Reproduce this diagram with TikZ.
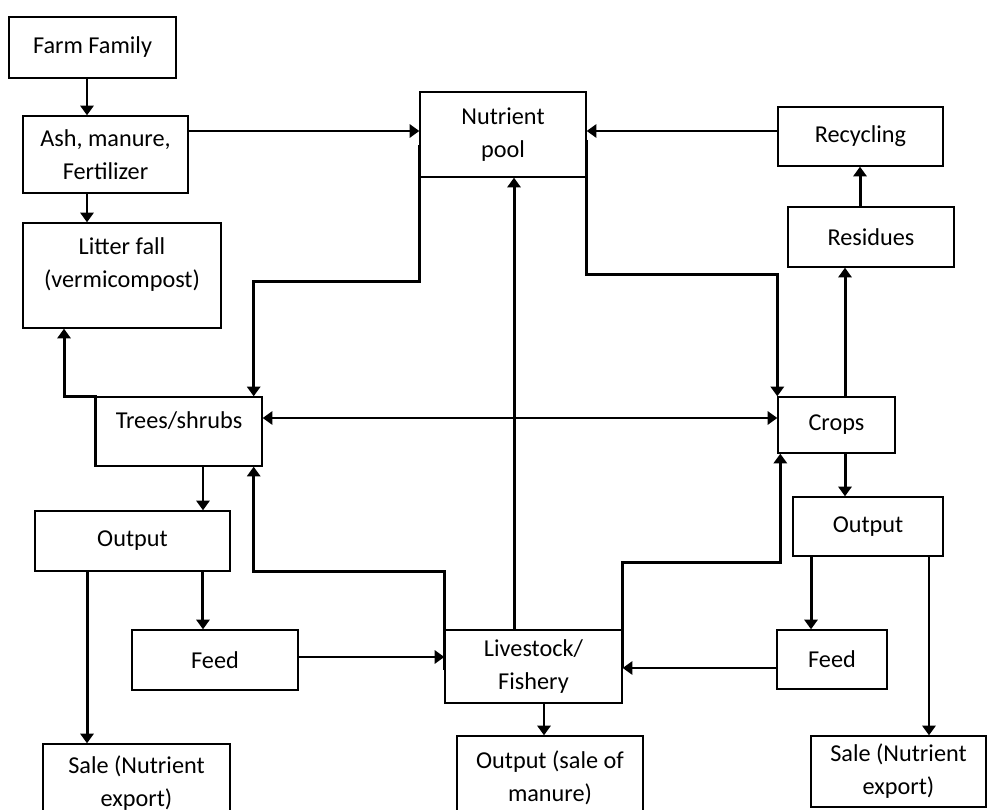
\documentclass[tikz,border=0pt]{standalone}
\usepackage{fontspec}
\setmainfont{Carlito}
\usepackage{tikz}
\usetikzlibrary{arrows.meta, positioning, calc}

\begin{document}
\begin{tikzpicture}[x=0.02cm, y=-0.02cm,
        box/.style={rectangle, draw=black, line width=0.8pt, align=center, font=\fontsize{13.8}{18.8}\selectfont, inner sep=2pt},
        conn/.style={line width=1.7pt, -{Triangle[length=5.5pt, width=7.5pt]}}]
        \useasboundingbox (0,0) rectangle (987,810);
        \node[box, minimum width=3.34cm, minimum height=1.22cm] (farm) at (92.5,47.5) {Farm Family};
        \node[box, minimum width=3.30cm, minimum height=1.54cm] (ash) at (105.5,154.5) {Ash, manure,\\Fertilizer};
        \node[box, minimum width=3.96cm, minimum height=2.10cm, text depth=0.5cm] (litter) at (122,275.5) {Litter fall\\(vermicompost)};
        \node[box, minimum width=3.32cm, minimum height=1.70cm] (pool) at (503,134.5) {Nutrient\\pool};
        \node[box, minimum width=3.30cm, minimum height=1.18cm] (recyc) at (860.5,136.5) {Recycling};
        \node[box, minimum width=3.32cm, minimum height=1.20cm] (resid) at (871,237) {Residues};
        \node[box, minimum width=3.32cm, minimum height=1.38cm, text depth=0.45cm] (trees) at (179,431.5) {Trees/shrubs};
        \node[box, minimum width=2.34cm, minimum height=1.12cm] (crops) at (836.5,425) {Crops};
        \node[box, minimum width=3.90cm, minimum height=1.20cm] (outL) at (132.5,541) {Output};
        \node[box, minimum width=3.32cm, minimum height=1.20cm] (feedL) at (215,660) {Feed};
        \node[box, minimum width=3.54cm, minimum height=1.46cm] (live) at (533.5,666.5) {Livestock/\\Fishery};
        \node[box, minimum width=3.00cm, minimum height=1.18cm] (outR) at (868,526.5) {Output};
        \node[box, minimum width=2.20cm, minimum height=1.18cm] (feedR) at (832,659.5) {Feed};
        \node[box, minimum width=3.74cm, minimum height=1.56cm] (saleL) at (136.5,783) {Sale (Nutrient\\export)};
        \node[box, minimum width=3.72cm, minimum height=1.66cm] (manure) at (550,777.5) {Output (sale of\\manure)};
        \node[box, minimum width=3.50cm, minimum height=1.42cm] (saleR) at (898.5,771.5) {Sale (Nutrient\\export)};
        % top left chain
        \draw[conn] ([xshift=-0.11cm]farm.south) -- ([xshift=-0.11cm]farm.south |- ash.north);
        \draw[conn] ([xshift=-0.37cm]ash.south) -- ([xshift=-0.37cm]ash.south |- litter.north);
        \draw[conn] ([yshift=0.47cm]ash.east) -- ([yshift=0.47cm]ash.east -| pool.west);
        % recycling side
        \draw[conn] ([yshift=0.11cm]recyc.west) -- ([yshift=0.11cm]recyc.west -| pool.east);
        \draw[conn] ([xshift=-0.22cm]resid.north) -- ([xshift=-0.22cm]resid.north |- recyc.south);
        \draw[conn] ([xshift=0.17cm]crops.north) -- ([xshift=0.17cm]crops.north |- resid.south);
        % nutrient pool outflows
        \draw[conn] ([yshift=-0.11cm]pool.east) -- ([yshift=-0.11cm]pool.east |- 0,269) -| (crops.north west);
        \draw[conn] ([yshift=-0.21cm]pool.west) -- ([yshift=-0.21cm]pool.west |- 0,271) -| ([xshift=-0.18cm]trees.north east);
        \draw[conn, {Triangle[length=5.5pt, width=7.5pt]}-{Triangle[length=5.5pt, width=7.5pt]}] ([yshift=0.27cm]trees.east) -- ([yshift=0.27cm]trees.east -| crops.west);
        \draw[conn] (trees.south west) -- (trees.north west) -| ([xshift=-1.16cm]litter.south);
        % livestock links
        \draw[conn] ([xshift=-0.39cm]live.north) -- ([xshift=-0.39cm]live.north |- pool.south);
        \draw[conn] ([yshift=-0.07cm]live.west) -- ([yshift=-0.07cm]live.west |- 0,568) -| ([xshift=-0.18cm]trees.south east);
        \draw[conn] ([yshift=-0.03cm]live.east) -- ([yshift=-0.03cm]live.east |- 0,561) -| ([xshift=0.06cm]crops.south west);
        \draw[conn] ([yshift=-0.17cm]feedR.west) -- ([yshift=-0.17cm]feedR.west -| live.east);
        \draw[conn] ([yshift=0.06cm]feedL.east) -- ([yshift=0.06cm]feedL.east -| live.west);
        \draw[conn] ([xshift=0.21cm]live.south) -- ([xshift=0.21cm]live.south |- manure.north);
        % outputs
        \draw[conn] ([xshift=0.48cm]trees.south) -- ([xshift=0.48cm]trees.south |- outL.north);
        \draw[conn] ([xshift=1.41cm]outL.south) -- ([xshift=1.41cm]outL.south |- feedL.north);
        \draw[conn] ([xshift=-0.91cm]outL.south) -- ([xshift=-0.91cm]outL.south |- saleL.north);
        \draw[conn] ([xshift=0.17cm]crops.south) -- ([xshift=0.17cm]crops.south |- outR.north);
        \draw[conn] ([xshift=-1.14cm]outR.south) -- ([xshift=-1.14cm]outR.south |- feedR.north);
        \draw[conn] ([xshift=1.22cm]outR.south) -- ([xshift=1.22cm]outR.south |- saleR.north);
    \end{tikzpicture}
\end{document}
